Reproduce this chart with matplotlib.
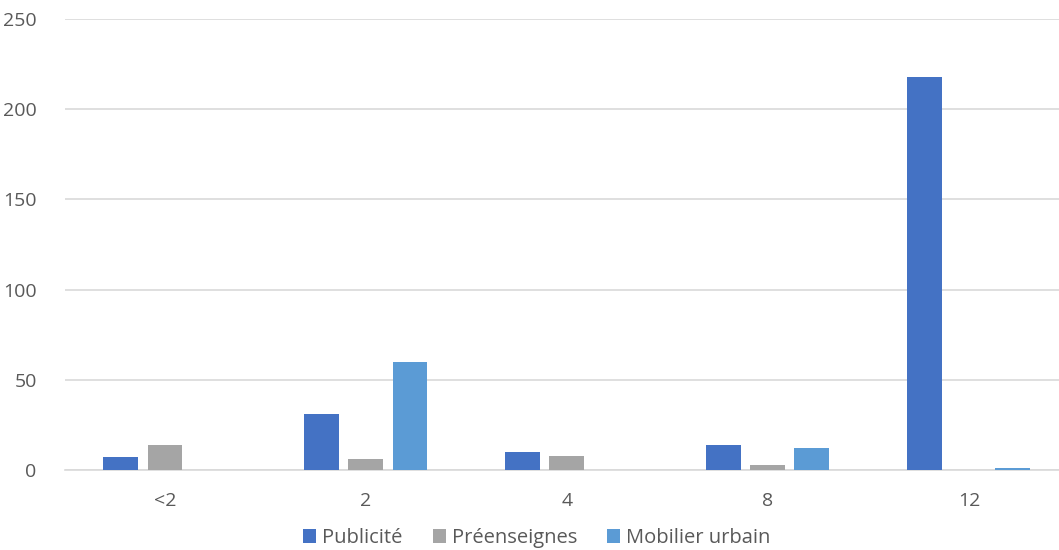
import matplotlib.pyplot as plt
import numpy as np

categories = ["<2", "2", "4", "8", "12"]
publicite = [7, 31, 10, 14, 218]
preenseignes = [14, 6, 8, 3, 0]
mobilier = [0, 60, 0, 12, 1]

series = [
    ("Publicité", publicite, "#4472C4"),
    ("Préenseignes", preenseignes, "#A5A5A5"),
    ("Mobilier urbain", mobilier, "#5B9BD5"),
]

plt.rcParams["font.family"] = ["Open Sans", "DejaVu Sans"]
text_color = "#595959"

fig = plt.figure(figsize=(10.59, 5.5), dpi=100)
ax = fig.add_axes([64.5 / 1059, 80 / 550, (1059 - 64.5) / 1059, 451 / 550])

x = np.arange(len(categories))
width = 0.174
step = 0.219
for i, (name, vals, color) in enumerate(series):
    ax.bar(x + (i - 1) * step, vals, width, color=color, label=name, zorder=3)

ax.set_xlim(-0.5, 4.448)
ax.set_ylim(0, 250)
ax.set_yticks(range(0, 251, 50))
ax.set_xticks(x)
ax.set_xticklabels(categories)
ax.grid(axis="y", color="#D9D9D9", linewidth=1.2, zorder=0)
for side in ["top", "right", "left"]:
    ax.spines[side].set_visible(False)
ax.spines["bottom"].set_color("#D9D9D9")
ax.spines["bottom"].set_linewidth(1.2)
ax.tick_params(axis="both", length=0, labelsize=14, labelcolor=text_color)
ax.tick_params(axis="x", pad=16)
ax.tick_params(axis="y", pad=20)

ax.legend(
    loc="center",
    bbox_to_anchor=(0.475, -0.151),
    ncol=3,
    frameon=False,
    fontsize=14.5,
    labelcolor=text_color,
    handlelength=0.65,
    handleheight=0.65,
    handletextpad=0.3,
    columnspacing=1.5,
    borderaxespad=0,
)

fig.savefig("out.png", dpi=100)
